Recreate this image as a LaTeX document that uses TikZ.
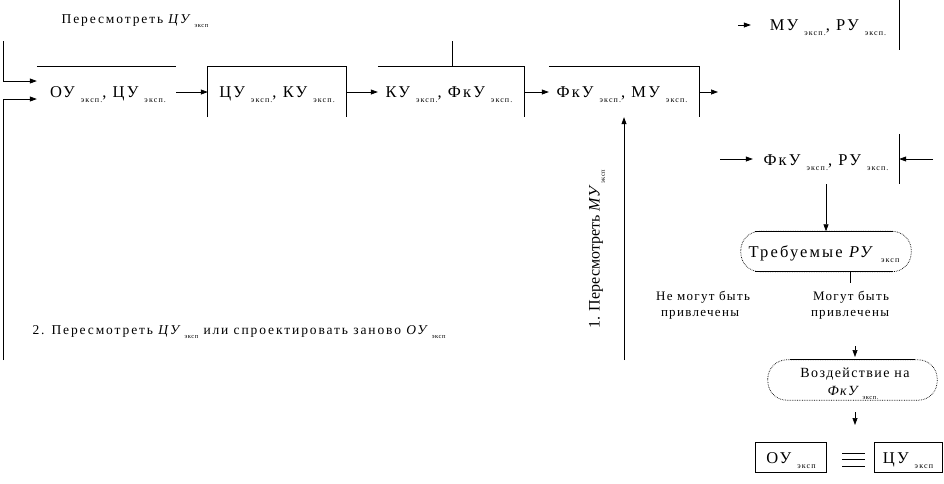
\documentclass[tikz,border=0pt]{standalone}
\usepackage{fontspec}
\setmainfont{Liberation Serif}
\usetikzlibrary{arrows.meta}
\newcommand\lowsub[1]{\raisebox{-0.75ex}{\fontsize{8}{9}\selectfont\addfontfeature{LetterSpace=14}\hspace{6pt}#1}}
\newcommand\lowsubs[1]{\raisebox{-0.7ex}{\fontsize{6.5}{7}\selectfont\addfontfeature{LetterSpace=8}\ #1}}
\begin{document}
\begin{tikzpicture}[x=1pt,y=-1pt,
  ln/.style={line width=0.7pt},
  arr/.style={ln,-{Triangle[length=7pt,width=5pt]}},
  box/.style={minimum width=#1,minimum height=50pt,inner sep=0pt},
  txt/.style={font=\fontsize{16.5}{18}\selectfont\addfontfeature{LetterSpace=13},inner sep=0pt,anchor=base},
  lbl/.style={font=\fontsize{13.5}{15}\selectfont\addfontfeature{LetterSpace=14},inner sep=0pt,anchor=base,align=center},
  lbs/.style={font=\fontsize{13}{15}\selectfont\addfontfeature{LetterSpace=10},inner sep=0pt,anchor=base,align=center},
  lba/.style={font=\fontsize{14}{16}\selectfont\addfontfeature{LetterSpace=10},inner sep=0pt,anchor=base,align=center},
  stad/.style={minimum width=#1,minimum height=40pt,inner sep=0pt}]
\useasboundingbox (0,0) rectangle (944,483);
% boxes (geometry)
\node[box=139pt] (b1) at (106.5,92) {};
\node[box=138pt] (b2) at (277,92) {};
\node[box=146pt] (b3) at (451,92) {};
\node[box=150pt] (b4) at (624,92) {};
\node[box=146pt] (b5) at (826,25) {};
\node[box=146pt] (b6) at (826,159) {};
% box texts
\node[txt] (t1) at (108,97) {ОУ\lowsub{эксп.}, ЦУ\lowsub{эксп.}};
\node[txt] (t2) at (277,97) {ЦУ\lowsub{эксп.}, КУ\lowsub{эксп.}};
\node[txt] (t3) at (449,97) {КУ\lowsub{эксп.}, ФкУ\lowsub{эксп.}};
\node[txt] (t4) at (622,97) {ФкУ\lowsub{эксп.}, МУ\lowsub{эксп.}};
\node[txt] (t5) at (828,30) {МУ\lowsub{эксп.}, РУ\lowsub{эксп.}};
\node[txt] (t6) at (826,165) {ФкУ\lowsub{эксп.}, РУ\lowsub{эксп.}};
% partial box outlines
\draw[ln] (b1.north west) -- (b1.north east);
\draw[ln] (b2.south west) -- (b2.north west) -- (b2.north east) -- (b2.south east);
\draw[ln] (b3.north west) -- (b3.north east) -- (b3.south east);
\draw[ln] (b4.north west) -- (b4.north east) -- (b4.south east);
\draw[ln] (b5.north west) -- (b5.north east) -- (b5.south east);
\draw[ln] (b6.north east) -- (b6.south east);
% free coordinates
\coordinate (l1) at (3,41);
\coordinate (l2) at (3,360);
\coordinate (up3) at (452,41);
\coordinate (o4) at (718,92);
\coordinate (i5) at (738,25);
\coordinate (i6a) at (720,159);
\coordinate (i6b) at (933,159);
\coordinate (r1) at (624,360);
% connectors
\draw[arr] (l1) -- (3,81) -- (b1.west |- 0,81);
\draw[arr] (l2) -- (3,99) -- (b1.west |- 0,99);
\draw[arr] (b1.east) -- (b2.west);
\draw[arr] (b2.east) -- (b3.west);
\draw[arr] (b3.east) -- (b4.west);
\draw[ln] (up3) -- (up3 |- b3.north);
\draw[arr] (b4.east) -- (o4);
\draw[arr] (i5) -- ([xshift=-2pt]b5.west);
\draw[arr] (i6a) -- (b6.west);
\draw[arr] (i6b) -- (b6.east);
\draw[arr] (r1) -- (r1 |- b4.south);
% labels
\node[lbl] (lab0) at (135,23) {Пересмотреть \textit{ЦУ}\lowsubs{эксп}};
\node[lbl] (lab2) at (239,334) {2. Пересмотреть \textit{ЦУ}\lowsubs{эксп} или спроектировать заново \textit{ОУ}\lowsubs{эксп}};
\node[font=\fontsize{16}{18}\selectfont,inner sep=0pt,rotate=90] (lab1) at (597,249) {1. Пересмотреть \textit{МУ}\lowsubs{эксп}};
% required
\node[stad=170pt] (req) at (826,251.5) {};
\node[txt] (treq) at (824,257) {Требуемые \textit{РУ}\lowsub{эксп}};
\draw[ln,densely dotted,rounded corners=19pt] (req.north west) rectangle (req.south east);
\draw[ln] ([xshift=14pt]req.north west) -- ([xshift=-18pt]req.north east);
\draw[ln] ([xshift=14pt]req.south west) -- ([xshift=-18pt]req.south east);
\draw[arr] (b6.south) -- (req.north);
\coordinate (rq2) at (850,283);
\draw[ln] (req.south -| rq2) -- (rq2);
\node[lbs] (no) at (703,300) {Не могут быть};
\node[lbs] (no2) at (700,316) {привлечены};
\node[lbs] (yes) at (851,300) {Могут быть};
\node[lbs] (yes2) at (850,316) {привлечены};
% action
\node[stad=169pt] (act) at (852.5,380) {};
\node[lba] (tact) at (855,377) {Воздействие на};
\node[lba] (tact2) at (853,395) {\textit{ФкУ}\lowsubs{эксп.}};
\draw[ln,densely dotted,rounded corners=19pt] (act.north west) rectangle (act.south east);
\draw[ln] ([xshift=22pt]act.north west) -- ([xshift=-22pt]act.north east);
\coordinate (a1) at (855,346);
\draw[arr] (a1) -- (855,357);
\coordinate (a2) at (855,412);
\draw[arr] (a2) -- (855,425);
% bottom boxes
\node[draw,ln,minimum width=71pt,minimum height=30pt,inner sep=0pt] (ou) at (791,457) {};
\node[txt] (tou) at (791,463) {ОУ\lowsub{эксп}};
\node[draw,ln,minimum width=68pt,minimum height=30pt,inner sep=0pt] (cu) at (908,457) {};
\node[txt] (tcu) at (908,463) {ЦУ\lowsub{эксп}};
\draw[ln] (842,453) -- (865,453) (842,459.5) -- (865,459.5) (842,466) -- (865,466);
\end{tikzpicture}
\end{document}
